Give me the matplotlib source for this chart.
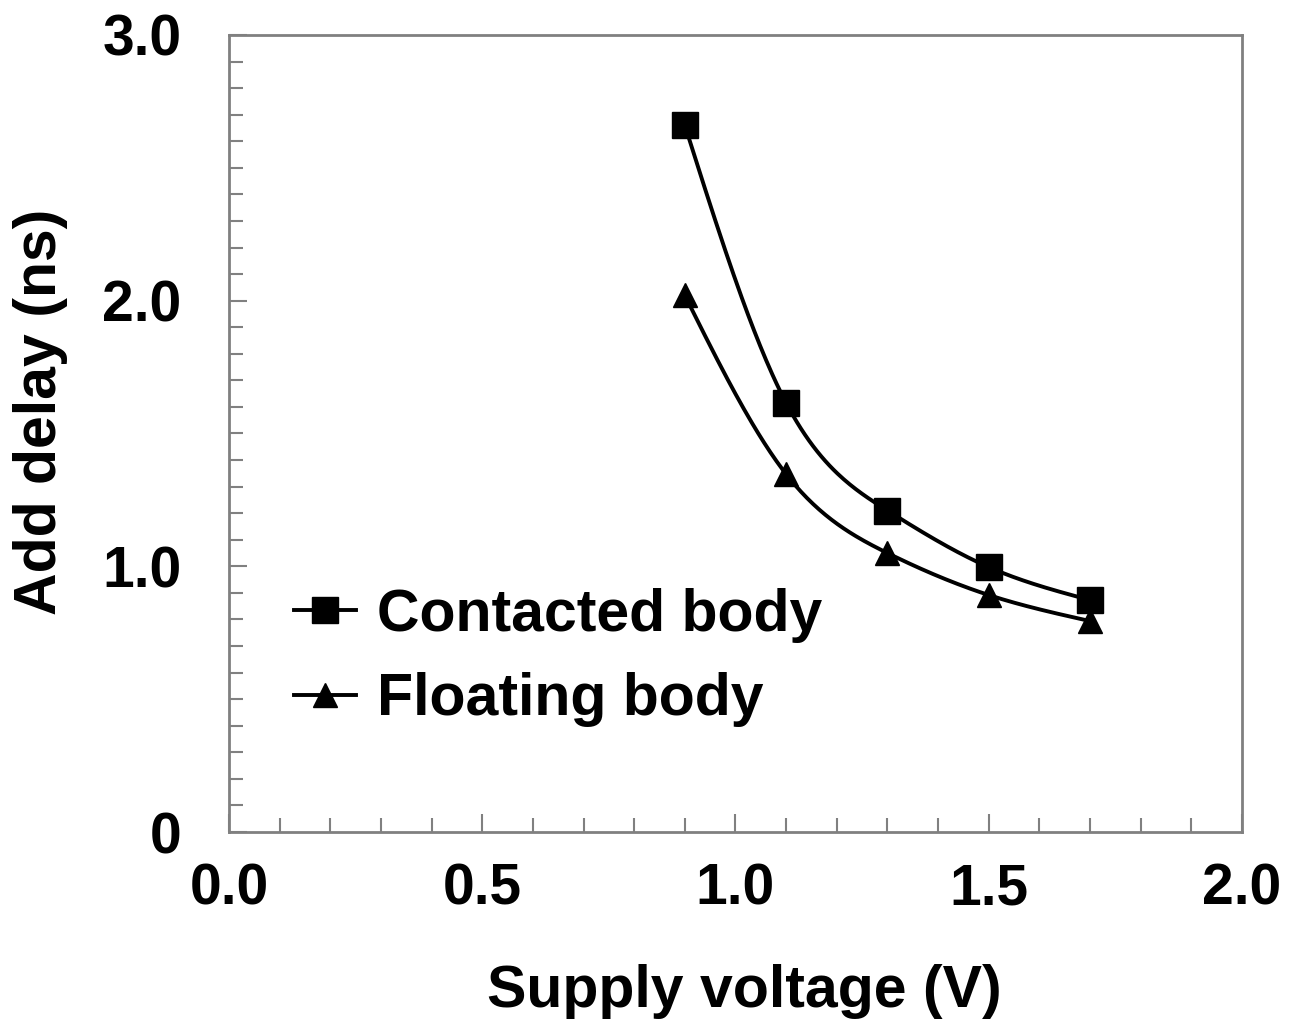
import numpy as np
import matplotlib
matplotlib.use("Agg")
import matplotlib.pyplot as plt
from matplotlib.ticker import MultipleLocator, FixedLocator
from matplotlib.lines import Line2D

voltage = [0.9, 1.1, 1.3, 1.5, 1.7]
contacted = [2.66, 1.615, 1.21, 0.997, 0.873]
floating = [2.02, 1.347, 1.05, 0.892, 0.794]

x_ticks = [0.0, 0.5, 1.0, 1.5, 2.0]
x_ticklabels = ["0.0", "0.5", "1.0", "1.5", "2.0"]
y_ticks = [0, 1, 2, 3]
y_ticklabels = ["0", "1.0", "2.0", "3.0"]


def natural_spline(x, y, n=200):
    x = np.asarray(x, float); y = np.asarray(y, float)
    m = len(x)
    h = np.diff(x)
    A = np.zeros((m, m)); b = np.zeros(m)
    A[0, 0] = 1; A[-1, -1] = 1
    for i in range(1, m - 1):
        A[i, i - 1] = h[i - 1]; A[i, i] = 2 * (h[i - 1] + h[i]); A[i, i + 1] = h[i]
        b[i] = 3 * ((y[i + 1] - y[i]) / h[i] - (y[i] - y[i - 1]) / h[i - 1])
    c = np.linalg.solve(A, b)
    xs = np.linspace(x[0], x[-1], n)
    ys = np.empty_like(xs)
    for k, xv in enumerate(xs):
        i = min(np.searchsorted(x, xv, side="right") - 1, m - 2)
        dx = xv - x[i]
        bi = (y[i + 1] - y[i]) / h[i] - h[i] * (2 * c[i] + c[i + 1]) / 3
        di = (c[i + 1] - c[i]) / (3 * h[i])
        ys[k] = y[i] + bi * dx + c[i] * dx ** 2 + di * dx ** 3
    return xs, ys


plt.rcParams['font.family'] = ['Liberation Sans', 'DejaVu Sans']
plt.rcParams['font.weight'] = 'bold'

fig = plt.figure(figsize=(13.06, 10.23), dpi=100)
ax = fig.add_axes([0.1753, 0.1867, 0.7757, 0.7791])

SQ = 18.5
TR = 17
for vals, mk, ms in [(contacted, 's', SQ), (floating, '^', TR)]:
    xs, ys = natural_spline(voltage, vals)
    ax.plot(xs, ys, color='black', lw=2.8, zorder=2)
    ax.plot(voltage, vals, linestyle='none', marker=mk, color='black',
            markersize=ms, zorder=3)

handles = [Line2D([], [], color='black', lw=2.8, marker='s', markersize=SQ),
           Line2D([], [], color='black', lw=2.8, marker='^', markersize=TR)]
ax.legend(handles, ['Contacted body', 'Floating body'], frameon=False,
          loc='upper left', bbox_to_anchor=(0.041, 0.336), fontsize=42.5,
          handlelength=1.05, handletextpad=0.35, labelspacing=0.5, borderaxespad=0)

ax.set_xlim(0, 2.0)
ax.set_ylim(0, 3.0)
ax.xaxis.set_major_locator(FixedLocator(x_ticks))
ax.set_xticklabels(x_ticklabels)
ax.xaxis.set_minor_locator(MultipleLocator(0.1))
ax.yaxis.set_major_locator(FixedLocator(y_ticks))
ax.set_yticklabels(y_ticklabels)
ax.yaxis.set_minor_locator(MultipleLocator(0.1))

gray = '#808080'
for s in ax.spines.values():
    s.set_color(gray)
    s.set_linewidth(2)

ax.tick_params(axis='both', which='both', direction='in', color=gray, width=1.5)
ax.tick_params(axis='both', which='major', length=13, labelsize=41)
ax.tick_params(axis='both', which='minor', length=10)
ax.tick_params(axis='x', which='major', pad=22)
ax.tick_params(axis='y', which='major', pad=34)

for lab in ax.get_xticklabels() + ax.get_yticklabels():
    lab.set_fontweight('bold')

ax.set_xlabel('Supply voltage (V)', fontsize=42.5, fontweight='bold')
ax.set_ylabel('Add delay (ns)', fontsize=42.5, fontweight='bold')
ax.xaxis.set_label_coords(0.509, -0.165)
ax.yaxis.set_label_coords(-0.159, 0.527)

fig.savefig('out.png', dpi=100, facecolor='white')
